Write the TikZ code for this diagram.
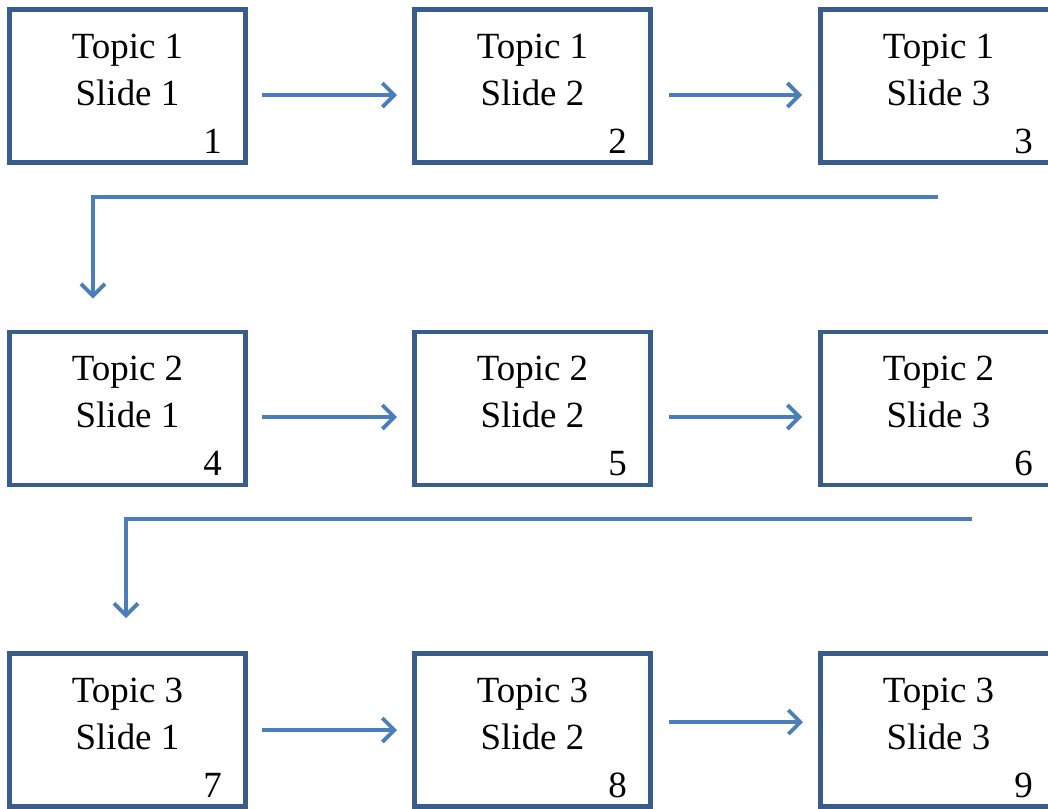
\documentclass[tikz,border=0pt]{standalone}
\usepackage{fontspec}
\setmainfont{Liberation Serif}
\usetikzlibrary{arrows.meta,calc}
\definecolor{boxblue}{HTML}{385D8A}
\definecolor{arrblue}{HTML}{4A7EBB}
\tikzset{
  slidebox/.style={draw=boxblue, line width=3.4pt, rectangle, minimum width=236*0.75pt, minimum height=153*0.75pt, inner sep=0pt, outer sep=0pt, anchor=north west, fill=white},
  slidetext/.style={anchor=base, inner sep=0pt, font=\fontsize{27.7}{33}\selectfont},
  slidenum/.style={anchor=base east, inner sep=0pt, font=\fontsize{27.7}{33}\selectfont},
  arr/.style={draw=arrblue, line width=2.8pt, -{Straight Barb[length=9pt,width=18pt]}},
}
\newcommand{\myslide}[6]{%
  \node[slidebox] (b#1) at (#2,#3) {};
  \node[slidetext] (tp#1) at ($(b#1.north)+(0,48.5)$) {Topic #4};
  \node[slidetext] (sl#1) at ($(b#1.north)+(0,95.5)$) {Slide #5};
  \node[slidenum] (n#1) at ($(b#1.north east)+(-23.5,143.5)$) {#6};
}
\begin{document}
\begin{tikzpicture}[x=0.75pt,y=-0.75pt]
\useasboundingbox (0,0) rectangle (1048,808);
\clip (0,0) rectangle (1048,808);
\myslide{1}{9.5}{9.5}{1}{1}{1}
\myslide{2}{414.5}{9.5}{1}{2}{2}
\myslide{3}{820.5}{9.5}{1}{3}{3}
\myslide{4}{9.5}{332}{2}{1}{4}
\myslide{5}{414.5}{332}{2}{2}{5}
\myslide{6}{820.5}{332}{2}{3}{6}
\myslide{7}{9.5}{653.5}{3}{1}{7}
\myslide{8}{414.5}{653.5}{3}{2}{8}
\myslide{9}{820.5}{653.5}{3}{3}{9}
% row arrows
\draw[arr] ($(b1.east)+(16.5,9)$) -- ($(b2.west)+(-17.5,9)$);
\draw[arr] ($(b2.east)+(18.5,9)$) -- ($(b3.west)+(-18.5,9)$);
\draw[arr] ($(b4.east)+(16.5,8.5)$) -- ($(b5.west)+(-17.5,8.5)$);
\draw[arr] ($(b5.east)+(18.5,8.5)$) -- ($(b6.west)+(-18.5,8.5)$);
\draw[arr] ($(b7.east)+(16.5,0)$) -- ($(b8.west)+(-17.5,0)$);
\draw[arr] ($(b8.east)+(18.5,-8)$) -- ($(b9.west)+(-17.5,-8)$);
% elbow connectors
\coordinate (c1) at (938,197);
\coordinate (c2) at (972,519);
\draw[arr] (c1) -| ($(b4.north)+(-34.5,-33.5)$);
\draw[arr] (c2) -| ($(b7.north)+(-1.5,-35.5)$);
\end{tikzpicture}
\end{document}
